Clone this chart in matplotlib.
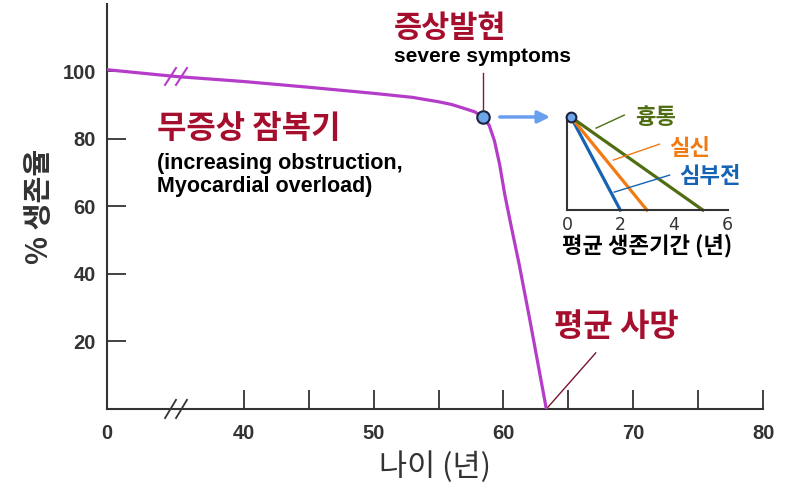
import numpy as np
import matplotlib
matplotlib.use("Agg")
import matplotlib.pyplot as plt

# survival curve (age in years, % survival)
age = [0, 20, 40, 45, 50, 53, 55, 56, 57, 57.8, 58.4, 58.9, 59.3, 59.7, 60.1, 60.6, 61.2, 62, 63.3]
survival = [100.5, 98.5, 97, 95.3, 93.5, 92.3, 91, 90.2, 89, 88, 86.5, 84, 79.5, 72.5, 63.5, 54, 43, 27, 0]
onset_age, onset_survival = 58.4, 86.5
death_age = 63.3

x_ticks = [0, 40, 45, 50, 55, 60, 65, 70, 75, 80]
x_ticklabels = ["0", "40", "", "50", "", "60", "", "70", "", "80"]
y_ticks = [20, 40, 60, 80, 100]

# inset: mean survival after symptom onset
symptoms = ["심부전", "실신", "흉통"]
survival_years = [2.0, 3.0, 5.1]
symptom_colors = ["#1463b4", "#f27a12", "#4f6e12"]
inset_ticks = [0, 2, 4, 6]

KR = ["Noto Sans CJK KR", "DejaVu Sans"]
EN = ["Liberation Sans", "DejaVu Sans"]
DARKRED = "#a50f2d"
GREY = "#333333"
PURPLE = "#b43cc8"

# broken x axis: 0-40 squeezed into a short stretch
X0 = 29.46


def fwd(x):
    x = np.asarray(x, dtype=float)
    return np.where(x < 40, X0 + x * (40 - X0) / 40, x)


def inv(u):
    u = np.asarray(u, dtype=float)
    return np.where(u < 40, (u - X0) * 40 / (40 - X0), u)


fig = plt.figure(figsize=(7.86, 4.84), dpi=100)
ax = fig.add_axes([0.136, 0.155, 0.835, 0.837])
ax.set_xscale("function", functions=(fwd, inv))
ax.set_xlim(0, 80)
ax.set_ylim(0, 120)

for s in ["top", "right"]:
    ax.spines[s].set_visible(False)
for s in ["left", "bottom"]:
    ax.spines[s].set_linewidth(1.5)
    ax.spines[s].set_color(GREY)

ax.set_xticks(x_ticks)
ax.set_xticklabels(x_ticklabels)
ax.set_yticks(y_ticks)
ax.tick_params(axis="both", direction="in", length=14, width=1.3, color=GREY,
               labelcolor=GREY)
ax.tick_params(axis="x", pad=11)
ax.tick_params(axis="y", pad=8)
ax.xaxis.set_minor_locator(plt.NullLocator())
for lab in ax.get_xticklabels() + ax.get_yticklabels():
    lab.set_fontfamily(EN)
    lab.set_fontweight("bold")
    lab.set_fontsize(14.5)

ax.plot(age, survival, color=PURPLE, lw=2.3, solid_capstyle="round",
        solid_joinstyle="round", zorder=3)

# break marks on axis and curve
for xb in (18.6, 21.8):
    ax.plot([xb - 1.6, xb + 1.6], [-2.7, 2.7], color=GREY, lw=1.3, clip_on=False, zorder=4)
    ax.plot([xb - 1.6, xb + 1.6], [96.0, 101.0], color=PURPLE, lw=1.5, zorder=4)

# symptom onset point
ax.plot([onset_age, onset_age], [88.8, 99.5], color="#8b1538", lw=1)
ax.plot(onset_age, onset_survival, "o", ms=9, mfc="#6ea6ea", mec="#1b2340", mew=1.5, zorder=5)
ax.text(55.9, 113, "증상발현", family=KR, fontsize=22, fontweight="bold",
        color=DARKRED, ha="center", va="center")
ax.text(onset_age, 104.3, "severe symptoms", family=EN, fontsize=15, fontweight="bold",
        color="black", ha="center", va="center")

ax.text(14.6, 82.8, "무증상 잠복기", family=KR, fontsize=23, fontweight="bold",
        color=DARKRED, ha="left", va="center")
ax.text(14.6, 72.8, "(increasing obstruction,", family=EN, fontsize=15.5, fontweight="bold",
        color="black", ha="left", va="center")
ax.text(14.6, 66.0, "Myocardial overload)", family=EN, fontsize=15.5, fontweight="bold",
        color="black", ha="left", va="center")

# mean death
ax.plot([death_age, 67.1], [0, 16.6], color="#7a1530", lw=1)
ax.text(68.7, 24.3, "평균 사망", family=KR, fontsize=23, fontweight="bold",
        color=DARKRED, ha="center", va="center")

ax.annotate("", xy=(63.8, onset_survival), xytext=(59.5, onset_survival),
            arrowprops=dict(arrowstyle="-|>", color="#6a9ff0", lw=2.5, mutation_scale=18))

ax.set_xlabel("나이 (년)", family=KR, fontsize=22, color=GREY, labelpad=6)
ax.set_ylabel("% 생존율", family=KR, fontsize=21, fontweight="bold", color=GREY, labelpad=6)

# inset
ins = fig.add_axes([0.7214, 0.566, 0.205, 0.192])
ins.set_xlim(0, 6.05)
ins.set_ylim(0, 87)
for s in ["top", "right"]:
    ins.spines[s].set_visible(False)
for s in ["left", "bottom"]:
    ins.spines[s].set_linewidth(1.5)
    ins.spines[s].set_color(GREY)
ins.set_yticks([])
ins.set_xticks(inset_ticks)
ins.tick_params(axis="x", length=0, pad=4, labelsize=12.5, labelcolor=GREY)
ins.patch.set_alpha(0)

for yrs, c in zip(survival_years, symptom_colors):
    ins.plot([0.15, yrs], [87, 0], color=c, lw=2.3, clip_on=False)
ins.plot(0.15, 87, "o", ms=7, mfc="#6ea6ea", mec="#1b2340", mew=1.5, clip_on=False, zorder=5)

label_pos = [(4.2, 31), (3.85, 58), (2.55, 87)]
leaders = [((1.77, 16.8), (3.85, 32.7)), ((1.74, 46.8), (3.47, 61.7)), ((1.09, 76.7), (2.15, 88.9))]
for name, c, (lx, ly), (p0, p1) in zip(symptoms, symptom_colors, label_pos, leaders):
    ins.plot([p0[0], p1[0]], [p0[1], p1[1]], color=c, lw=1, clip_on=False)
    ins.text(lx, ly, name, family=KR, fontsize=16, fontweight="bold", color=c,
             ha="left", va="center")

ins.set_xlabel("평균 생존기간 (년)", family=KR, fontsize=16, fontweight="bold",
               color="black", labelpad=0)

fig.savefig("out.png", dpi=100)
